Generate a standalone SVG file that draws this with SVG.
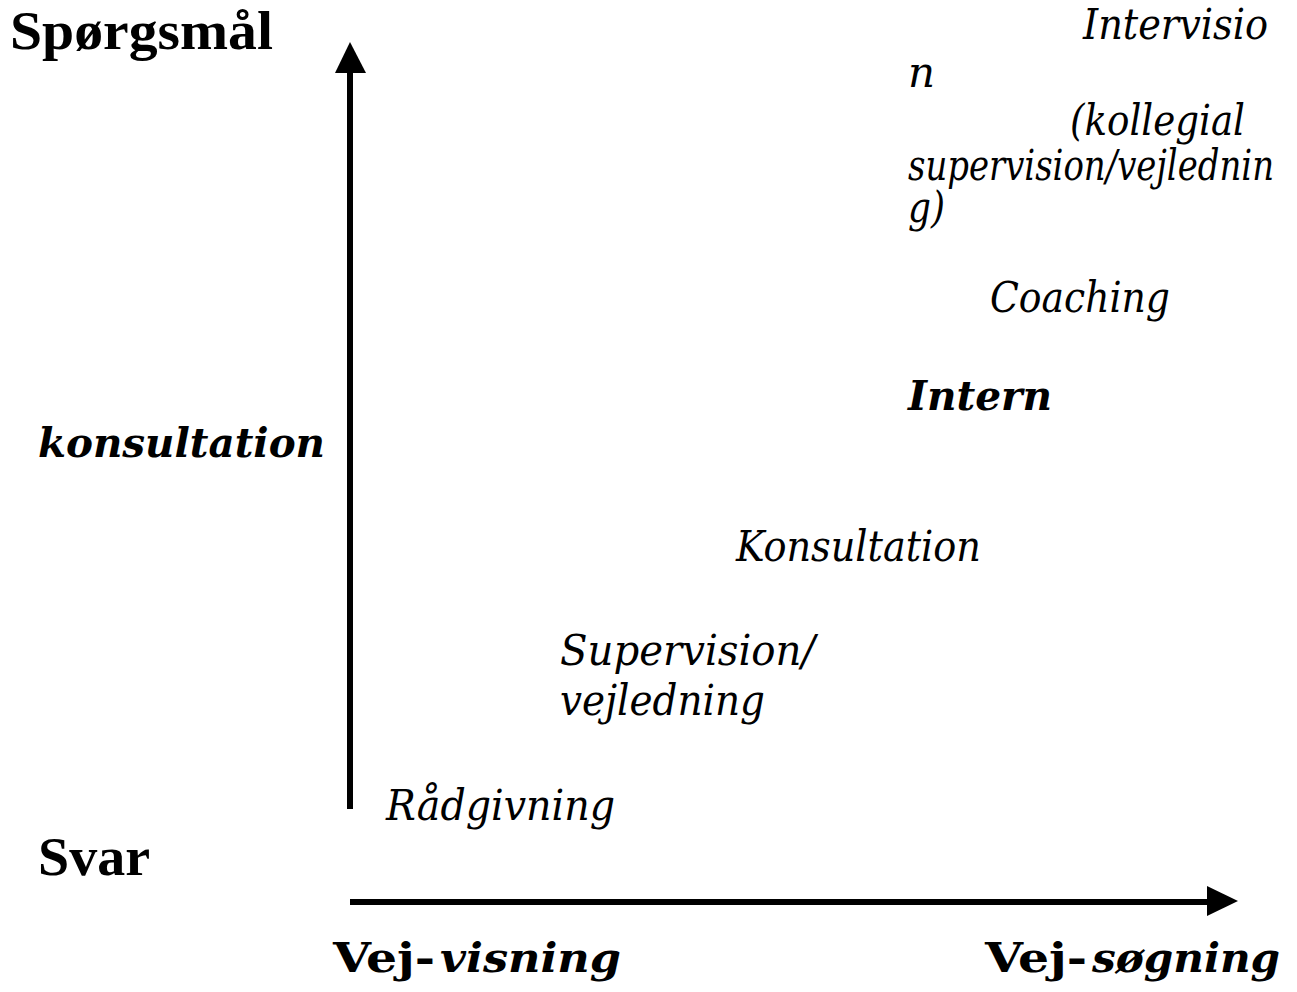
<svg xmlns="http://www.w3.org/2000/svg" width="1297" height="992" viewBox="0 0 1297 992">
<style>
.ttl{font-family:"Liberation Serif",serif;font-weight:bold;font-size:54px;fill:#000}
.it{font-family:"DejaVu Serif",serif;font-stretch:condensed;font-style:italic;font-size:42px;fill:#000}
.bi{font-family:"DejaVu Serif",serif;font-stretch:condensed;font-style:italic;font-weight:bold;font-size:41px;fill:#000}
.bu{font-family:"DejaVu Serif",serif;font-stretch:condensed;font-weight:bold;font-size:41px;fill:#000}
.ax{stroke:#000;stroke-width:6;fill:none}
</style>
<rect width="1297" height="992" fill="#fff"/>
<g id="connectors">
<line class="ax" x1="350" y1="809" x2="350" y2="70"/>
<polygon points="350,42 335,73 366,73" fill="#000"/>
<line class="ax" x1="350" y1="902" x2="1210" y2="902"/>
<polygon points="1238,901 1207,886 1207,916" fill="#000"/>
</g>
<g id="axis-labels">
<text class="ttl" x="10" y="49" textLength="263" lengthAdjust="spacingAndGlyphs">Spørgsmål</text>
<text class="ttl" x="38" y="875" textLength="112" lengthAdjust="spacingAndGlyphs">Svar</text>
<text class="bi" x="38" y="457" textLength="287" lengthAdjust="spacingAndGlyphs">konsultation</text>
<text class="bu" x="333" y="972" textLength="102" lengthAdjust="spacingAndGlyphs">Vej-</text>
<text class="bi" x="440" y="972" textLength="181" lengthAdjust="spacingAndGlyphs">visning</text>
<text class="bu" x="985" y="972" textLength="102" lengthAdjust="spacingAndGlyphs">Vej-</text>
<text class="bi" x="1092" y="972" textLength="188" lengthAdjust="spacingAndGlyphs">søgning</text>
</g>
<g id="intervision">
<text class="it" x="1083" y="39" textLength="185" lengthAdjust="spacingAndGlyphs">Intervisio</text>
<text class="it" x="908" y="87" textLength="27" lengthAdjust="spacingAndGlyphs">n</text>
<text class="it" x="1070" y="135" textLength="175" lengthAdjust="spacingAndGlyphs">(kollegial</text>
<text class="it" x="908" y="180" textLength="366" lengthAdjust="spacingAndGlyphs">supervision/vejlednin</text>
<text class="it" x="908" y="222" textLength="37" lengthAdjust="spacingAndGlyphs">g)</text>
</g>
<g id="coaching">
<text class="it" x="990" y="312" textLength="180" lengthAdjust="spacingAndGlyphs">Coaching</text>
</g>
<g id="intern">
<text class="bi" x="908" y="410" textLength="144" lengthAdjust="spacingAndGlyphs">Intern</text>
</g>
<g id="konsultation">
<text class="it" x="736" y="561" textLength="245" lengthAdjust="spacingAndGlyphs">Konsultation</text>
</g>
<g id="supervision">
<text class="it" x="560" y="665" textLength="255" lengthAdjust="spacingAndGlyphs">Supervision/</text>
<text class="it" x="560" y="715" textLength="205" lengthAdjust="spacingAndGlyphs">vejledning</text>
</g>
<g id="raadgivning">
<text class="it" x="386" y="820" textLength="229" lengthAdjust="spacingAndGlyphs">Rådgivning</text>
</g>
</svg>
